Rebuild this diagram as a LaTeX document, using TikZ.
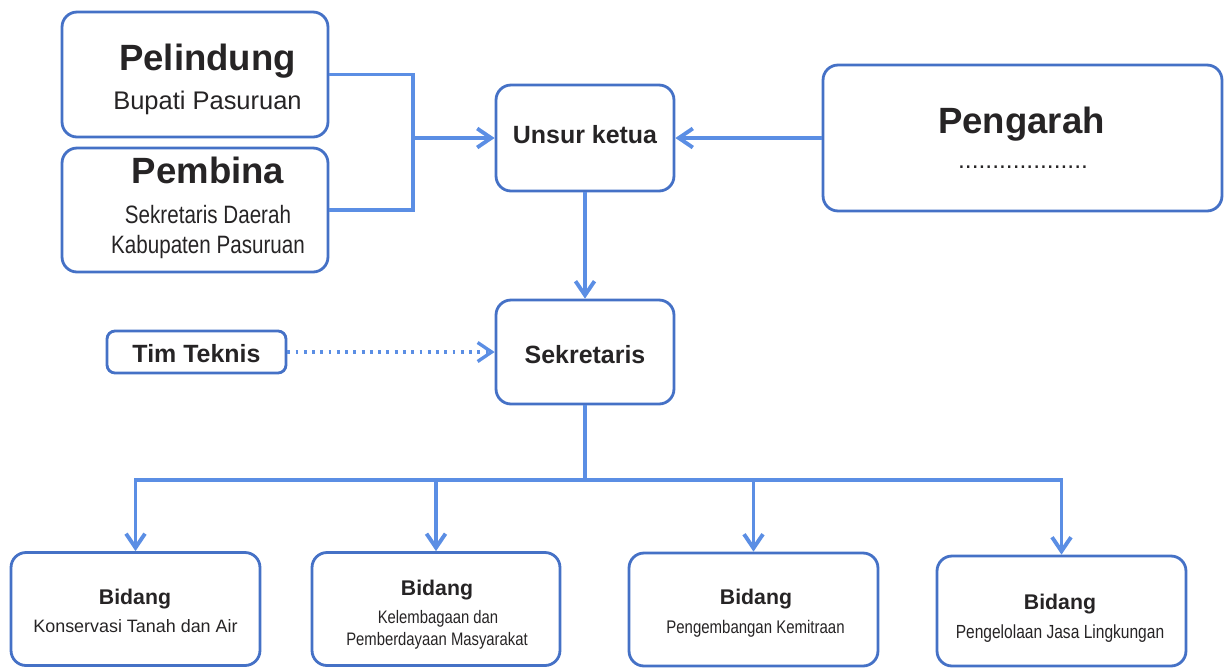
\documentclass[tikz,border=0pt]{standalone}
\usepackage{fontspec}
\setmainfont{Liberation Sans}
\newfontfamily\narrowfont{Liberation Sans}[FakeStretch=0.82]
\usetikzlibrary{arrows.meta}
\usetikzlibrary{positioning}

\definecolor{boxblue}{HTML}{4571C6}
\definecolor{lineblue}{HTML}{5B8EE4}
\definecolor{ink}{HTML}{262425}

\newcommand{\headfont}{\fontsize{20.8}{25}\selectfont\bfseries}
\newcommand{\midfont}{\fontsize{14.2}{17}\selectfont\bfseries}
\newcommand{\bidfont}{\fontsize{12.1}{14}\selectfont\bfseries}

\begin{document}
\begin{tikzpicture} [x = 0.02cm, y = -0.02cm,
    every node/.append style = {text = ink},
    box/.style = {draw = boxblue, line width = 1.6pt, rounded corners = 3mm},
    link/.style = {draw = lineblue, line width = 2.2pt},
    arr/.style = {-{Straight Barb[length = 2.8mm, width = 3.8mm]}}]

\useasboundingbox (0,0) rectangle (1225,667);

% top left
\node (pelindung) [box, minimum width = 5.32cm, minimum height = 2.5cm] at (195,74.5) {};
\node (pelindungT) [anchor = base, font = \headfont] at (207.5,70) {Pelindung};
\node (pelindungS) [anchor = base, font = \fontsize{14.5}{17}\selectfont] at (207.5,109) {Bupati Pasuruan};

\node (pembina) [box, minimum width = 5.32cm, minimum height = 2.48cm] at (195,210) {};
\node (pembinaT) [anchor = base, font = \headfont] at (208,183) {Pembina};
\node (pembinaS) [anchor = base, font = \narrowfont\fontsize{14.3}{17}\selectfont] at (208,223) {Sekretaris Daerah};
\node (pembinaK) [anchor = base, font = \narrowfont\fontsize{14.3}{17}\selectfont] at (208,253) {Kabupaten Pasuruan};

% ketua and pengarah
\node (unsur) [box, minimum width = 3.56cm, minimum height = 2.12cm] at (585,138) {};
\node (unsurT) [anchor = base, font = \midfont] at (585,143) {Unsur ketua};

\node (pengarah) [box, minimum width = 7.98cm, minimum height = 2.92cm] at (1022.5,138) {};
\node (pengarahT) [anchor = base, font = \headfont] at (1021.5,133) {Pengarah};
\node (pengarahD) [anchor = base, font = \fontsize{14}{17}\selectfont] at (1023,168) {...................};

% sekretaris
\node (sekretaris) [box, minimum width = 3.56cm, minimum height = 2.08cm] at (585,352) {};
\node (sekretarisT) [anchor = base, font = \midfont] at (585,363) {Sekretaris};

\node (tim) [box, rounded corners = 1.6mm, minimum width = 3.58cm, minimum height = 0.84cm] at (196.5,352) {};
\node (timT) [anchor = base, font = \midfont] at (196.5,362) {Tim Teknis};

% bidang
\node (b1) [box, minimum width = 4.98cm, minimum height = 2.26cm] at (135.5,609) {};
\node (b1T) [anchor = base, font = \bidfont] at (135,604) {Bidang};
\node (b1S) [anchor = base, font = \fontsize{10.2}{12}\selectfont] at (135.5,632) {Konservasi Tanah dan Air};

\node (b2) [box, minimum width = 4.96cm, minimum height = 2.26cm] at (436,609) {};
\node (b2T) [anchor = base, font = \bidfont] at (437,595) {Bidang};
\node (b2S) [anchor = base, font = \narrowfont\fontsize{10.3}{12}\selectfont] at (438,623) {Kelembagaan dan};
\node (b2M) [anchor = base, font = \narrowfont\fontsize{10.3}{12}\selectfont] at (437,645) {Pemberdayaan Masyarakat};

\node (b3) [box, minimum width = 4.98cm, minimum height = 2.26cm] at (753.5,609.5) {};
\node (b3T) [anchor = base, font = \bidfont] at (756,604) {Bidang};
\node (b3S) [anchor = base, font = \narrowfont\fontsize{10.4}{12}\selectfont] at (755.5,633) {Pengembangan Kemitraan};

\node (b4) [box, minimum width = 4.98cm, minimum height = 2.2cm] at (1061.5,611) {};
\node (b4T) [anchor = base, font = \bidfont] at (1060,609) {Bidang};
\node (b4S) [anchor = base, font = \narrowfont\fontsize{10.8}{12}\selectfont] at (1060,638) {Pengelolaan Jasa Lingkungan};

% connectors
\coordinate (join) at (413,138);
\coordinate (split) at (585,480);

\draw [link] (pelindung.east) -| (join) |- (pembina.east);
\draw [link, arr] (join) -- (unsur.west);
\draw [link, arr] (pengarah.west) -- (unsur.east);
\draw [link, arr] (unsur.south) -- (sekretaris.north);
\draw [link, arr, line width = 1.9pt, dash pattern = on 1.6pt off 3.1pt] (tim.east) -- (sekretaris.west);

\draw [link] (sekretaris.south) -- (split);
\foreach \b in {b1, b2, b3, b4}
    \draw [link, arr] (split) -| (\b.north);

\end{tikzpicture}
\end{document}
